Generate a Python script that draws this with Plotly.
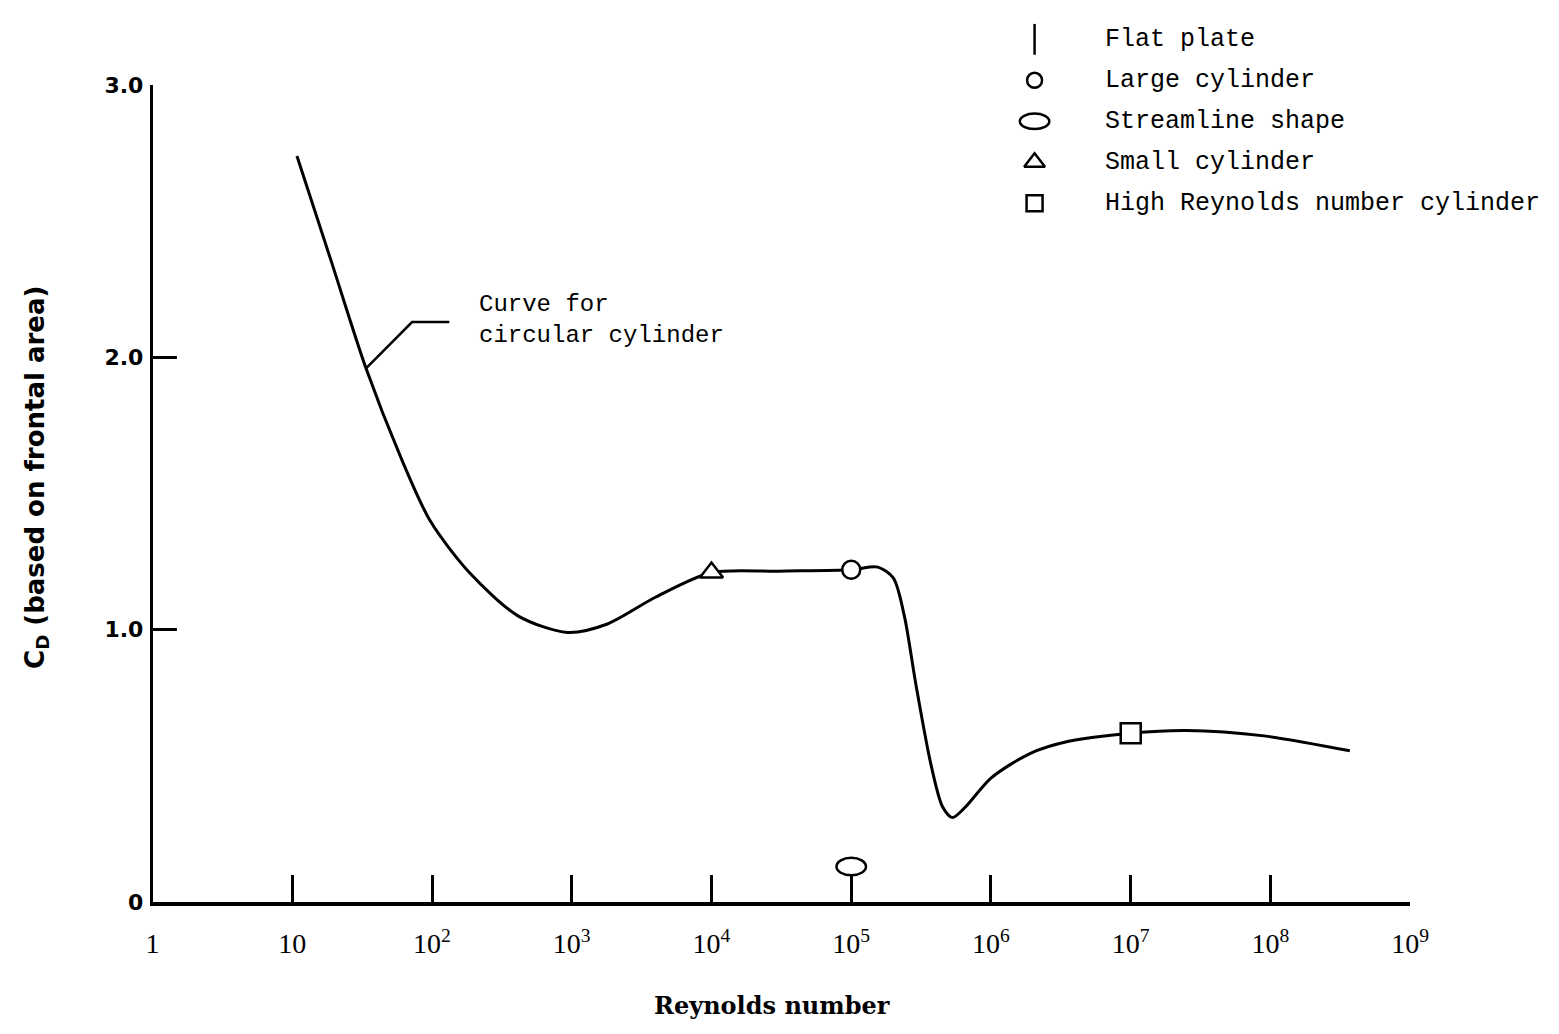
import plotly.graph_objects as go

W, H = 1559, 1034

# ---- data ----
curve_re = [10.8, 19.1, 33.7, 59, 97, 185, 415, 930, 1780, 4000, 1.0e4, 3.0e4,
            1.0e5, 1.55e5, 2.0e5, 2.4e5, 2.9e5, 3.7e5, 4.5e5, 5.3e5, 6.6e5,
            1.0e6, 1.9e6, 3.6e6, 1.0e7, 2.5e7, 9.0e7, 3.7e8]
curve_cd = [2.74, 2.35, 1.96, 1.64, 1.40, 1.21, 1.05, 0.99, 1.02, 1.12, 1.21, 1.215,
            1.22, 1.23, 1.19, 1.05, 0.80, 0.51, 0.35, 0.31, 0.35,
            0.455, 0.545, 0.59, 0.62, 0.63, 0.61, 0.555]

small_cyl_re, small_cyl_cd = [1e4], [1.21]
large_cyl_re, large_cyl_cd = [1e5], [1.22]
high_re_cyl_re, high_re_cyl_cd = [1e7], [0.62]
streamline_re, streamline_cd = [1e5], [0.13]

leader_re = [33.7, 72, 133]
leader_cd = [1.96, 2.13, 2.13]

x_tickvals = [1, 10, 1e2, 1e3, 1e4, 1e5, 1e6, 1e7, 1e8, 1e9]
x_ticktext = ["1", "10", "10<sup>2</sup>", "10<sup>3</sup>", "10<sup>4</sup>",
              "10<sup>5</sup>", "10<sup>6</sup>", "10<sup>7</sup>",
              "10<sup>8</sup>", "10<sup>9</sup>"]
y_tickvals = [0, 1, 2, 3]
y_ticktext = ["<b>0</b>", "<b>1.0</b>", "<b>2.0</b>", "<b>3.0</b>"]

legend_labels = ["Flat plate", "Large cylinder", "Streamline shape",
                 "Small cylinder", "High Reynolds number cylinder"]
legend_symbols = ["line-ns", "circle", "ellipse", "triangle-up", "square"]

# ---- layout constants (pixels) ----
PL, PR, PT, PB = 148, 1427, 75, 912
LEG_SYM_X, LEG_TXT_X, LEG_Y0, LEG_DY = 1045, 1115, 28, 42
X_DECADES, Y_SPAN = 9, 3
PX_PER_DEC = (PR - PL) / X_DECADES
PX_PER_CD = (PB - PT) / Y_SPAN

fig = go.Figure()

fig.add_trace(go.Scatter(x=curve_re, y=curve_cd, mode="lines",
                         line=dict(color="black", width=3, shape="spline", smoothing=0.8),
                         hoverinfo="skip"))
fig.add_trace(go.Scatter(x=leader_re, y=leader_cd, mode="lines",
                         line=dict(color="black", width=2.5), hoverinfo="skip"))

mk_line = dict(color="black", width=2.5)
fig.add_trace(go.Scatter(x=small_cyl_re, y=small_cyl_cd, mode="markers",
                         marker=dict(symbol="triangle-up", size=20, color="white", line=mk_line)))
fig.add_trace(go.Scatter(x=large_cyl_re, y=large_cyl_cd, mode="markers",
                         marker=dict(symbol="circle", size=18, color="white", line=mk_line)))
fig.add_trace(go.Scatter(x=high_re_cyl_re, y=high_re_cyl_cd, mode="markers",
                         marker=dict(symbol="square", size=20, color="white", line=mk_line)))

shapes = []
# streamline shape drawn as an ellipse (about 30 x 18 px) centred on its data point
for re_, cd_ in zip(streamline_re, streamline_cd):
    fx = 10 ** (15 / PX_PER_DEC)
    hy = 9 / PX_PER_CD
    shapes.append(dict(type="circle", xref="x", yref="y",
                       x0=re_ / fx, x1=re_ * fx, y0=cd_ - hy, y1=cd_ + hy,
                       line=dict(color="black", width=2.5), fillcolor="white"))

# ---- legend (manual) ----
leg_y = [LEG_Y0 + LEG_DY * i for i in range(len(legend_labels))]
sym_sizes = {"line-ns": 22, "circle": 15, "triangle-up": 18, "square": 16}
for lab, sym, yy in zip(legend_labels, legend_symbols, leg_y):
    if sym == "ellipse":
        shapes.append(dict(type="circle", xref="x2", yref="y2",
                           x0=LEG_SYM_X - 15, x1=LEG_SYM_X + 15, y0=yy - 8, y1=yy + 8,
                           line=dict(color="black", width=2.5)))
    else:
        fig.add_trace(go.Scatter(x=[LEG_SYM_X], y=[yy], xaxis="x2", yaxis="y2", mode="markers",
                                 marker=dict(symbol=sym, size=sym_sizes[sym], color="white",
                                             line=dict(color="black", width=2.5)),
                                 cliponaxis=False, hoverinfo="skip"))

annotations = []
for lab, yy in zip(legend_labels, leg_y):
    annotations.append(dict(text=lab, xref="paper", yref="paper", x=LEG_TXT_X / W, y=1 - yy / H,
                            xanchor="left", yanchor="middle", showarrow=False,
                            font=dict(family="Liberation Mono", size=25, color="black")))

annotations.append(dict(text="Curve for<br>circular cylinder", xref="paper", yref="paper",
                        x=478 / W, y=1 - 316 / H, xanchor="left", yanchor="middle",
                        align="left", showarrow=False,
                        font=dict(family="Liberation Mono", size=24, color="black")))
annotations.append(dict(text="<b>C<sub>D</sub> (based on frontal area)</b>", xref="paper", yref="paper",
                        x=30 / W, y=1 - 477 / H, textangle=-90, showarrow=False,
                        xanchor="center", yanchor="middle",
                        font=dict(family="DejaVu Sans", size=26, color="black")))
annotations.append(dict(text="<b>Reynolds number</b>", xref="paper", yref="paper",
                        x=778 / W, y=1 - 1018 / H, showarrow=False,
                        xanchor="center", yanchor="middle",
                        font=dict(family="DejaVu Serif", size=24, color="black")))

fig.update_layout(
    width=W, height=H, margin=dict(l=0, r=0, t=0, b=0, pad=0),
    paper_bgcolor="white", plot_bgcolor="rgba(0,0,0,0)", showlegend=False,
    xaxis=dict(type="log", range=[0, X_DECADES], domain=[PL / W, PR / W], anchor="y",
               showline=True, linecolor="black", linewidth=3.5, showgrid=False, zeroline=False,
               ticks="inside", ticklen=27, tickwidth=2.5, tickcolor="black",
               tickvals=x_tickvals, ticktext=x_ticktext, ticklabelstandoff=14,
               tickfont=dict(family="Liberation Serif", size=28, color="black")),
    yaxis=dict(range=[0, Y_SPAN], domain=[1 - PB / H, 1 - PT / H], anchor="x",
               showline=True, linecolor="black", linewidth=2.5, showgrid=False, zeroline=False,
               ticks="inside", ticklen=25, tickwidth=2.5, tickcolor="black",
               tickvals=y_tickvals, ticktext=y_ticktext, ticklabelstandoff=2,
               tickfont=dict(family="DejaVu Sans", size=22, color="black")),
    xaxis2=dict(domain=[0, 1], range=[0, W], visible=False, anchor="y2", fixedrange=True),
    yaxis2=dict(domain=[0, 1], range=[H, 0], visible=False, anchor="x2", fixedrange=True),
    shapes=shapes, annotations=annotations,
)

post = """
var st=document.createElement('style');
st.innerHTML='html,body{margin:0;padding:0;overflow:hidden;}';
document.head.appendChild(st);
"""
fig.write_html("out.html", post_script=post, config={"displayModeBar": False})
